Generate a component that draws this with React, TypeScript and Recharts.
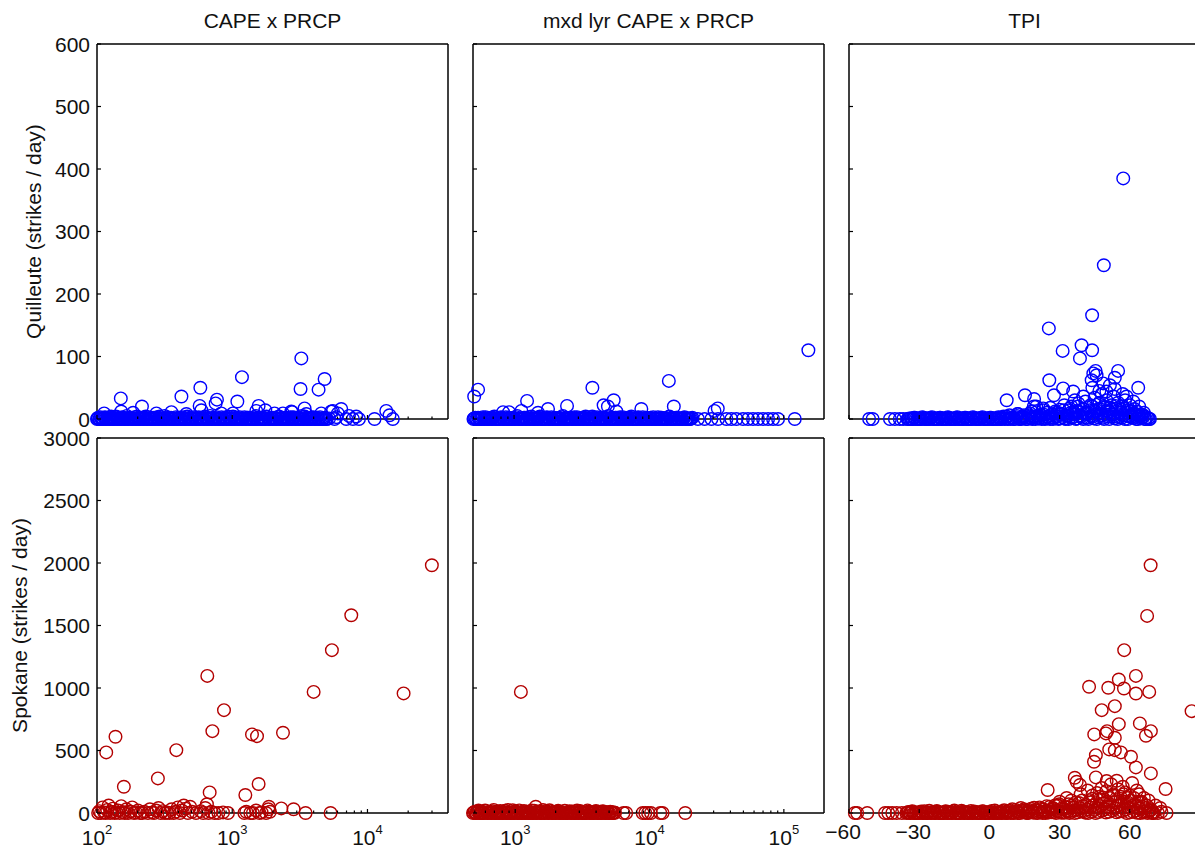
import React from 'react';
import { ScatterChart, Scatter, XAxis, YAxis } from 'recharts';

type Pt = [number, number];

// ---- Quilleute, CAPE x PRCP ----
const quilleuteCapePeaks: Pt[] = [
  [3243, 97], [3200, 48], [4350, 47], [4820, 64], [1180, 67], [581, 50], [421, 36], [150, 33],
  [215, 20], [771, 31], [754, 25], [1091, 28], [574, 21], [1567, 21], [1757, 14], [3428, 17],
  [6397, 16], [13770, 13], [14560, 6], [2735, 12], [2055, 9], [5395, 12], [113, 9], [151, 12],
  [185, 10], [275, 9], [355, 11], [458, 8], [591, 14], [830, 9], [1012, 9], [1506, 13], [2371, 9],
  [2780, 11], [3530, 8], [4553, 9], [5550, 13], [6040, 9], [8260, 4],
];
const quilleuteCapeBase: Pt[] = [
  [100, 0], [102, 2], [105, 0], [108, 1], [111, 0], [115, 3], [118, 0], [122, 1], [126, 0], [129, 2],
  [133, 0], [138, 4], [142, 0], [146, 1], [151, 0], [156, 2], [161, 0], [166, 5], [171, 0], [177, 1],
  [183, 0], [189, 3], [195, 0], [201, 1], [208, 0], [215, 2], [222, 0], [229, 4], [236, 0], [244, 1],
  [252, 0], [260, 2], [269, 0], [278, 3], [287, 0], [296, 1], [306, 0], [316, 5], [326, 0], [337, 2],
  [348, 0], [359, 1], [371, 0], [383, 3], [396, 0], [409, 2], [422, 0], [436, 1], [450, 0], [465, 4],
  [480, 0], [496, 2], [512, 0], [529, 1], [547, 0], [565, 3], [583, 0], [603, 2], [622, 0], [643, 1],
  [664, 0], [686, 5], [709, 0], [732, 2], [756, 0], [781, 1], [807, 0], [834, 3], [861, 0], [890, 2],
  [919, 0], [950, 1], [981, 0], [1013, 4], [1047, 0], [1082, 2], [1117, 0], [1154, 1], [1193, 0],
  [1232, 3], [1273, 0], [1315, 2], [1358, 0], [1403, 1], [1450, 0], [1498, 5], [1547, 0], [1598, 2],
  [1651, 0], [1706, 1], [1762, 0], [1821, 3], [1881, 0], [1943, 2], [2007, 0], [2074, 1], [2142, 0],
  [2213, 4], [2287, 0], [2362, 2], [2441, 0], [2521, 1], [2605, 0], [2691, 3], [2780, 0], [2872, 2],
  [2967, 0], [3066, 1], [3167, 0], [3272, 5], [3381, 0], [3493, 2], [3608, 0], [3728, 1], [3851, 0],
  [3979, 3], [4110, 0], [4247, 2], [4387, 0], [4532, 1], [4683, 0], [4838, 2], [4998, 0], [5200, 1],
  [5710, 0], [5900, 3], [6970, 0], [7300, 5], [7800, 0], [8650, 0], [11280, 0], [15400, 0],
];
const quilleuteCapeDense: Pt[] = [
  [101, 1], [104, 0], [106, 3], [110, 0], [113, 2], [116, 0], [120, 1], [124, 0], [127, 4], [131, 0],
  [135, 1], [140, 0], [144, 2], [149, 0], [153, 3], [158, 0], [163, 1], [168, 0], [174, 2], [180, 0],
  [186, 1], [192, 0], [198, 4], [204, 0], [211, 1], [218, 0], [225, 2], [232, 0], [240, 3], [248, 0],
  [256, 1], [264, 0], [273, 2], [282, 0], [291, 4], [301, 0], [311, 1], [321, 0], [331, 3], [342, 0],
  [353, 2], [365, 0], [377, 1], [389, 0], [402, 2], [415, 0], [429, 3], [443, 0], [457, 1], [472, 0],
  [488, 2], [504, 0], [520, 3], [538, 0], [556, 1], [574, 0], [593, 2], [612, 0], [632, 4], [653, 0],
  [675, 1], [697, 0], [720, 2], [744, 0], [768, 3], [794, 0], [820, 1], [847, 0], [875, 2], [904, 0],
  [934, 4], [965, 0], [997, 1], [1030, 0], [1064, 2], [1099, 0], [1135, 3], [1173, 0], [1212, 1],
  [1252, 0], [1294, 2], [1336, 0], [1380, 1], [1426, 0], [1474, 3], [1522, 0], [1572, 2], [1624, 0],
  [1678, 1], [1734, 0], [1791, 4], [1850, 0], [1912, 1], [1975, 0], [2040, 2], [2108, 0], [2177, 3],
  [2250, 0], [2324, 1], [2400, 0], [2480, 2], [2562, 0], [2647, 1], [2735, 0], [2825, 3], [2919, 0],
  [3015, 2], [3115, 0], [3219, 1], [3325, 0], [3436, 4], [3550, 0], [3667, 1], [3789, 0], [3914, 2],
  [4044, 0], [4178, 1], [4316, 0], [4459, 3], [4607, 0], [4760, 1], [4917, 0],
];

// ---- Quilleute, mixed-layer CAPE x PRCP ----
const quilleuteMxdPeaks: Pt[] = [
  [152400, 110], [14060, 61], [3811, 50], [541, 47], [506, 36], [1249, 29], [5483, 30], [4616, 22],
  [4966, 20], [2471, 21], [15310, 20], [32430, 17], [30680, 13], [8790, 16], [1786, 16], [918, 11],
  [829, 11], [1134, 13], [1506, 10], [5740, 12],
];
const quilleuteMxdBase: Pt[] = [
  [500, 0], [515, 2], [532, 0], [550, 1], [568, 0], [587, 3], [606, 0], [626, 1], [647, 0], [668, 2],
  [690, 0], [713, 4], [737, 0], [761, 1], [786, 0], [812, 2], [839, 0], [867, 3], [896, 0], [925, 1],
  [956, 0], [988, 2], [1020, 0], [1054, 5], [1089, 0], [1125, 1], [1162, 0], [1200, 2], [1240, 0],
  [1281, 3], [1323, 0], [1367, 1], [1412, 0], [1459, 2], [1507, 0], [1557, 4], [1608, 0], [1661, 1],
  [1716, 0], [1773, 2], [1832, 0], [1892, 3], [1955, 0], [2019, 1], [2086, 0], [2155, 2], [2226, 0],
  [2300, 5], [2376, 0], [2454, 1], [2535, 0], [2619, 2], [2705, 0], [2795, 3], [2887, 0], [2983, 1],
  [3081, 0], [3183, 2], [3288, 0], [3397, 4], [3509, 0], [3625, 1], [3745, 0], [3869, 2], [3996, 0],
  [4128, 3], [4265, 0], [4406, 1], [4551, 0], [4701, 2], [4857, 0], [5017, 5], [5183, 0], [5354, 1],
  [5531, 0], [5714, 2], [5903, 0], [6098, 3], [6299, 0], [6507, 1], [6722, 0], [6944, 2], [7174, 0],
  [7411, 4], [7656, 0], [7909, 1], [8170, 0], [8440, 2], [8719, 0], [9007, 3], [9305, 0], [9612, 1],
  [9930, 0], [10260, 2], [10600, 0], [10950, 1], [11310, 0], [11680, 3], [12070, 0], [12470, 2],
  [12880, 0], [13300, 1], [13740, 0], [14200, 4], [14670, 0], [15150, 1], [15650, 0], [16170, 2],
  [16700, 0], [17250, 1], [17820, 0], [18410, 3], [19020, 0], [19650, 1], [20300, 0], [21000, 2],
  [23100, 0], [25900, 0], [29100, 0], [32600, 0], [37600, 0], [40900, 0], [44600, 0], [49900, 0],
  [54300, 0], [59200, 0], [64500, 0], [70300, 0], [76600, 0], [83400, 0], [90800, 0], [120800, 0],
];
const quilleuteMxdDense: Pt[] = [
  [507, 1], [523, 0], [541, 2], [559, 0], [577, 1], [596, 0], [616, 3], [636, 0], [657, 1], [679, 0],
  [701, 2], [725, 0], [749, 1], [773, 0], [799, 3], [825, 0], [853, 1], [881, 0], [910, 2], [940, 0],
  [972, 1], [1004, 0], [1037, 3], [1071, 0], [1107, 1], [1143, 0], [1181, 2], [1220, 0], [1260, 1],
  [1302, 0], [1345, 4], [1390, 0], [1435, 1], [1483, 0], [1532, 2], [1582, 0], [1634, 1], [1688, 0],
  [1744, 3], [1802, 0], [1862, 1], [1923, 0], [1987, 2], [2052, 0], [2120, 1], [2190, 0], [2263, 3],
  [2338, 0], [2415, 1], [2495, 0], [2577, 2], [2662, 0], [2750, 1], [2841, 0], [2935, 3], [3032, 0],
  [3132, 1], [3235, 0], [3342, 2], [3453, 0], [3567, 1], [3685, 0], [3807, 4], [3932, 0], [4062, 1],
  [4196, 0], [4335, 2], [4478, 0], [4626, 1], [4779, 0], [4937, 3], [5100, 0], [5268, 1], [5442, 0],
  [5622, 2], [5808, 0], [6000, 1], [6198, 0], [6403, 3], [6614, 0], [6833, 1], [7059, 0], [7292, 2],
  [7533, 0], [7782, 1], [8039, 0], [8305, 3], [8579, 0], [8862, 1], [9155, 0], [9458, 2], [9771, 0],
  [10090, 1], [10430, 0], [10770, 3], [11130, 0], [11490, 1], [11870, 0], [12270, 2], [12670, 0],
  [13090, 1], [13520, 0], [13970, 3], [14430, 0], [14910, 1], [15400, 0], [15910, 2], [16430, 0],
  [16970, 1], [17530, 0], [18110, 2], [18710, 0], [19330, 1], [19970, 0], [20650, 1],
];

// ---- Quilleute, TPI ----
const quilleuteTpiPeaks: Pt[] = [
  [57.2, 385], [48.9, 246], [43.9, 166], [25.4, 145], [31.3, 109], [39.4, 118], [43.9, 110],
  [38.7, 97], [45.4, 77], [44.4, 73], [45.8, 70], [55.0, 77], [53.6, 66], [25.6, 62], [63.6, 50],
  [15.2, 38], [7.4, 30], [19.1, 32], [31.5, 49], [35.8, 44], [43.7, 62], [48.6, 57], [51.5, 54],
  [53.6, 48], [58.6, 36], [61.5, 28], [27.6, 38], [40.1, 36], [19.0, 20], [23.0, 17], [36.5, 30],
];
const quilleuteTpiCloud: Pt[] = [
  [12, 8], [18, 12], [22, 6], [26, 18], [29, 10], [32, 22], [34, 14], [36, 8], [38, 25], [40, 16],
  [41, 28], [42, 10], [44, 20], [45, 34], [46, 14], [47, 26], [48, 40], [49, 18], [50, 30], [51, 12],
  [52, 22], [53, 36], [54, 16], [55, 26], [56, 10], [57, 20], [58, 30], [59, 14], [60, 22], [61, 8],
  [62, 16], [63, 12], [64, 20], [65, 6], [66, 10], [30, 15], [35, 20], [47, 45], [50, 44], [44, 50],
  [37, 13], [52, 8], [57, 40], [20, 20], [23, 14],
];
const quilleuteTpiBase: Pt[] = [
  [-51.4, 0], [-49.9, 0], [-42.5, 0], [-40.4, 0], [-38.3, 0], [-36.8, 0],
  [-35, 0], [-34.2, 1], [-33.1, 0], [-32.3, 2], [-31.4, 0], [-30.3, 1], [-29.5, 0], [-28.7, 3],
  [-27.6, 0], [-26.8, 1], [-25.9, 0], [-25.1, 2], [-24.0, 0], [-23.2, 1], [-22.4, 0], [-21.3, 2],
  [-20.5, 0], [-19.6, 1], [-18.7, 0], [-17.8, 3], [-16.9, 0], [-16.1, 1], [-15.0, 0], [-14.2, 2],
  [-13.3, 0], [-12.5, 1], [-11.4, 0], [-10.6, 2], [-9.7, 0], [-8.8, 1], [-7.9, 0], [-7.1, 3],
  [-6.0, 0], [-5.2, 1], [-4.3, 0], [-3.5, 2], [-2.4, 0], [-1.6, 1], [-0.7, 0], [0.2, 2], [1.1, 0],
  [1.9, 1], [2.9, 0], [3.8, 3], [4.6, 0], [5.5, 2], [6.5, 0], [7.3, 4], [8.2, 1], [9.1, 0], [10.0, 3],
  [10.8, 0], [11.7, 5], [12.6, 1], [13.5, 0], [14.4, 4], [15.3, 2], [16.1, 0], [17.1, 6], [17.9, 1],
  [18.8, 3], [19.7, 0], [20.6, 5], [21.5, 2], [22.3, 0], [23.3, 7], [24.1, 1], [25.0, 4], [25.9, 0],
  [26.8, 8], [27.7, 2], [28.5, 5], [29.5, 0], [30.3, 9], [31.2, 3], [32.1, 1], [33.0, 6], [33.9, 0],
  [34.8, 10], [35.7, 3], [36.6, 7], [37.5, 1], [38.3, 12], [39.2, 4], [40.1, 0], [41.0, 9], [41.9, 2],
  [42.8, 14], [43.7, 5], [44.6, 1], [45.4, 11], [46.3, 3], [47.2, 16], [48.1, 6], [49.0, 0],
  [49.9, 13], [50.8, 4], [51.7, 18], [52.6, 7], [53.5, 1], [54.3, 12], [55.2, 3], [56.1, 15],
  [57.0, 6], [57.9, 0], [58.8, 10], [59.7, 4], [60.6, 13], [61.5, 2], [62.4, 8], [63.3, 0], [64.2, 6],
  [65.1, 2], [66.0, 4], [66.9, 0], [67.8, 1], [68.6, 0],
];
const quilleuteTpiDense: Pt[] = [
  [-34.6, 0], [-33.6, 1], [-32.7, 0], [-31.8, 2], [-30.8, 0], [-29.9, 1], [-29.1, 0], [-28.1, 2],
  [-27.2, 0], [-26.3, 1], [-25.5, 0], [-24.5, 3], [-23.6, 0], [-22.8, 1], [-21.8, 0], [-20.9, 2],
  [-20.1, 0], [-19.1, 1], [-18.2, 0], [-17.3, 2], [-16.5, 0], [-15.5, 1], [-14.6, 0], [-13.7, 3],
  [-12.9, 0], [-11.9, 1], [-11.0, 0], [-10.1, 2], [-9.2, 0], [-8.3, 1], [-7.5, 0], [-6.5, 2],
  [-5.6, 0], [-4.7, 1], [-3.9, 0], [-2.9, 3], [-2.0, 0], [-1.1, 1], [-0.2, 0], [0.7, 2], [1.5, 0],
  [2.4, 1], [3.3, 0], [4.2, 2], [5.1, 0], [6.0, 4], [6.9, 1], [7.8, 0], [8.6, 6], [9.5, 2], [10.4, 0],
  [11.3, 3], [12.2, 8], [13.0, 0], [13.9, 2], [14.8, 6], [15.7, 0], [16.6, 3], [17.5, 9], [18.4, 0],
  [19.2, 4], [20.1, 11], [21.0, 1], [21.9, 7], [22.8, 3], [23.7, 0], [24.6, 10], [25.5, 2], [26.3, 6],
  [27.2, 0], [28.1, 12], [29.0, 4], [29.9, 1], [30.8, 8], [31.7, 14], [32.6, 0], [33.4, 5], [34.3, 17],
  [35.2, 2], [36.1, 11], [37.0, 0], [37.9, 20], [38.8, 6], [39.7, 2], [40.5, 15], [41.4, 8], [42.3, 0],
  [43.2, 22], [44.1, 4], [45.0, 13], [45.9, 0], [46.8, 24], [47.6, 9], [48.5, 2], [49.4, 19], [50.3, 7],
  [51.2, 0], [52.1, 15], [53.0, 4], [53.9, 21], [54.8, 0], [55.7, 10], [56.6, 2], [57.5, 17], [58.4, 5],
  [59.2, 0], [60.1, 12], [61.0, 4], [61.9, 9], [62.8, 0], [63.7, 5], [64.6, 1], [65.5, 7], [66.4, 0],
  [67.3, 3], [68.2, 0],
];

// ---- Spokane, CAPE x PRCP ----
const spokaneCapePeaks: Pt[] = [
  [29930, 1982], [7590, 1582], [5457, 1303], [3999, 969], [18500, 957], [654, 1097], [869, 823],
  [713, 655], [1400, 629], [1525, 615], [2373, 642], [137, 610], [117, 485], [386, 503], [158, 210],
  [282, 277], [681, 165], [1567, 232], [1250, 144], [1866, 50], [2306, 37], [2843, 30], [3487, 0],
  [5335, 0],
];
const spokaneCapeBase: Pt[] = [
  [102, 0], [104, 15], [107, 0], [110, 45], [113, 5], [116, 0], [119, 25], [122, 60], [125, 0],
  [128, 10], [131, 35], [135, 0], [139, 5], [143, 20], [147, 0], [151, 55], [155, 8], [160, 0],
  [165, 30], [170, 0], [176, 12], [182, 45], [188, 0], [194, 5], [201, 20], [208, 0], [216, 0],
  [224, 10], [238, 0], [246, 30], [255, 5], [264, 0], [274, 20], [285, 40], [296, 0], [306, 15],
  [318, 0], [330, 5], [343, 0], [356, 30], [369, 0], [382, 10], [396, 45], [410, 0], [424, 20],
  [438, 60], [453, 35], [470, 0], [488, 50], [505, 10], [540, 0], [585, 15], [610, 0], [632, 40],
  [650, 70], [668, 0], [700, 10], [740, 0], [790, 0], [855, 5], [930, 0], [1230, 0], [1270, 10],
  [1360, 0], [1420, 0], [1500, 20], [1590, 0], [1650, 5], [1780, 0], [1850, 30], [1900, 10],
];

// ---- Spokane, mixed-layer CAPE x PRCP ----
const spokaneMxdPeaks: Pt[] = [[1102, 969], [1422, 50]];
const spokaneMxdBase: Pt[] = [
  [485, 0], [500, 10], [516, 0], [533, 20], [551, 0], [569, 5], [588, 0], [607, 15], [627, 0],
  [648, 8], [669, 0], [691, 25], [714, 0], [738, 12], [762, 0], [787, 4], [813, 0], [840, 18],
  [868, 0], [896, 6], [926, 0], [957, 22], [988, 0], [1021, 10], [1054, 0], [1089, 3], [1125, 0],
  [1162, 16], [1201, 0], [1240, 7], [1281, 0], [1324, 20], [1367, 0], [1412, 5], [1459, 0],
  [1507, 12], [1557, 0], [1609, 24], [1662, 0], [1717, 8], [1773, 0], [1832, 14], [1892, 0],
  [1955, 4], [2020, 0], [2086, 18], [2155, 0], [2227, 9], [2300, 0], [2376, 2], [2454, 0], [2536, 15],
  [2619, 0], [2706, 6], [2795, 0], [2888, 20], [2983, 0], [3082, 10], [3184, 0], [3289, 3], [3398, 0],
  [3510, 12], [3626, 0], [3746, 5], [3870, 0], [3998, 16], [4130, 0], [4267, 7], [4408, 0],
  [4554, 10], [4704, 0], [4860, 4], [5021, 0], [5187, 8], [5358, 0], [5535, 2],
  [6400, 0], [6700, 0], [8890, 0], [9300, 0], [9750, 0], [10250, 0], [12030, 0], [12500, 0], [18450, 0],
];
const spokaneMxdDense: Pt[] = [
  [492, 5], [508, 0], [524, 12], [542, 0], [560, 3], [578, 0], [597, 20], [617, 0], [637, 6], [658, 0],
  [680, 14], [702, 0], [726, 2], [750, 0], [774, 17], [800, 0], [826, 9], [854, 0], [882, 24], [911, 0],
  [941, 4], [972, 0], [1004, 13], [1037, 0], [1071, 21], [1107, 0], [1143, 7], [1181, 0], [1220, 11],
  [1260, 0], [1302, 2], [1345, 0], [1389, 18], [1435, 0], [1483, 9], [1532, 0], [1583, 4], [1635, 0],
  [1689, 15], [1745, 0], [1802, 22], [1862, 0], [1923, 6], [1987, 0], [2053, 10], [2120, 0], [2191, 3],
  [2263, 0], [2338, 19], [2415, 0], [2495, 8], [2577, 0], [2662, 12], [2750, 0], [2841, 4], [2935, 0],
  [3032, 16], [3132, 0], [3236, 7], [3343, 0], [3453, 21], [3567, 0], [3685, 5], [3807, 0], [3933, 11],
  [4063, 0], [4197, 3], [4336, 0], [4479, 14], [4627, 0], [4780, 6], [4939, 0], [5102, 10], [5270, 0],
  [5445, 4],
];

// ---- Spokane, TPI ----
const spokaneTpiPeaks: Pt[] = [
  [68.9, 1982], [67.4, 1577], [57.6, 1303], [42.6, 1010], [50.8, 1002], [55.3, 1068], [62.6, 1097],
  [57.5, 996], [62.6, 956], [68.3, 969], [48.0, 823], [53.6, 855], [55.3, 711], [44.8, 629],
  [50.3, 655], [49.8, 637], [53.6, 602], [64.3, 717], [66.9, 618], [69.0, 655], [51.2, 509],
  [53.6, 503], [56.2, 485], [60.5, 450], [62.6, 365], [45.5, 463], [44.7, 410], [69.0, 317],
  [36.5, 282], [37.3, 250], [38.7, 224], [24.9, 184], [75.3, 192], [45.5, 285], [50.1, 256],
  [54.4, 258], [86.4, 815],
];
const spokaneTpiCloud: Pt[] = [
  [46, 160], [50, 175], [53, 150], [55, 190], [58, 165], [60, 140], [63, 180], [66, 120], [44, 140],
  [48, 200], [52, 230], [57, 210], [61, 240], [64, 150], [68, 100], [71, 60], [73, 40], [30, 90],
  [33, 120], [39, 150], [42, 180], [28, 60], [35, 100], [47, 130], [59, 120], [65, 90],
];
const spokaneTpiBase: Pt[] = [
  [-57.5, 0], [-56.5, 0], [-52.2, 0], [-44.6, 0], [-43.2, 0], [-41.5, 0], [-39.6, 0], [-37.4, 0],
  [-35.5, 0], [-34.6, 8], [-33.7, 0], [-32.9, 15], [-31.8, 0], [-31.0, 5], [-30.1, 0], [-29.2, 12],
  [-28.3, 0], [-27.4, 3], [-26.5, 0], [-25.7, 18], [-24.8, 0], [-23.9, 6], [-23.0, 0], [-22.1, 10],
  [-21.2, 0], [-20.3, 4], [-19.4, 0], [-18.6, 14], [-17.7, 0], [-16.8, 7], [-15.9, 0], [-15.0, 20],
  [-14.1, 0], [-13.2, 2], [-12.3, 0], [-11.5, 11], [-10.6, 0], [-9.7, 5], [-8.8, 0], [-7.9, 16],
  [-7.0, 0], [-6.1, 9], [-5.2, 0], [-4.4, 3], [-3.5, 0], [-2.6, 13], [-1.7, 0], [-0.8, 6], [0.1, 0],
  [1.0, 17], [1.9, 0], [2.7, 4], [3.6, 0], [4.5, 10], [5.4, 0], [6.3, 22], [7.2, 0], [8.1, 8],
  [9.0, 0], [9.8, 30], [10.7, 2], [11.6, 14], [12.5, 0], [13.4, 40], [14.3, 5], [15.2, 20], [16.1, 0],
  [16.9, 12], [17.8, 35], [18.7, 3], [19.6, 24], [20.5, 0], [21.4, 45], [22.3, 9], [23.2, 28],
  [24.0, 0], [24.9, 16], [25.8, 50], [26.7, 6], [27.6, 32], [28.5, 0], [29.4, 60], [30.3, 12],
  [31.1, 38], [32.0, 2], [32.9, 20], [33.8, 70], [34.7, 8], [35.6, 44], [36.5, 0], [37.4, 26],
  [38.3, 80], [39.2, 14], [40.1, 55], [40.9, 3], [41.8, 30], [42.7, 95], [43.6, 10], [44.5, 62],
  [45.4, 0], [46.3, 40], [47.2, 110], [48.0, 18], [48.9, 75], [49.8, 4], [50.7, 50], [51.6, 120],
  [52.5, 22], [53.4, 85], [54.3, 6], [55.1, 60], [56.0, 130], [56.9, 15], [57.8, 90], [58.7, 0],
  [59.6, 45], [60.5, 100], [61.4, 10], [62.2, 70], [63.1, 2], [64.0, 35], [64.9, 80], [65.8, 5],
  [66.7, 40], [67.6, 0], [68.5, 20], [69.4, 3], [70.2, 0], [72.0, 0], [73.5, 10], [75.7, 0],
];
const spokaneTpiDense: Pt[] = [
  [-35.0, 4], [-34.1, 0], [-33.3, 10], [-32.3, 0], [-31.4, 2], [-30.5, 0], [-29.6, 7], [-28.7, 0],
  [-27.8, 14], [-26.9, 0], [-26.1, 5], [-25.2, 0], [-24.3, 9], [-23.4, 0], [-22.5, 16], [-21.6, 0],
  [-20.7, 3], [-19.8, 0], [-18.9, 11], [-18.1, 0], [-17.2, 6], [-16.3, 0], [-15.4, 13], [-14.5, 0],
  [-13.6, 4], [-12.7, 0], [-11.9, 18], [-11.0, 0], [-10.1, 8], [-9.2, 0], [-8.3, 2], [-7.4, 0],
  [-6.5, 12], [-5.7, 0], [-4.8, 6], [-3.9, 0], [-3.0, 15], [-2.1, 0], [-1.2, 4], [-0.3, 0], [0.5, 9],
  [1.4, 0], [2.3, 20], [3.2, 0], [4.1, 6], [5.0, 0], [5.9, 14], [6.7, 3], [7.6, 0], [8.5, 18], [9.4, 5],
  [10.3, 0], [11.2, 25], [12.0, 8], [12.9, 0], [13.8, 16], [14.7, 30], [15.6, 4], [16.5, 0], [17.4, 22],
  [18.3, 10], [19.1, 42], [20.0, 2], [20.9, 18], [21.8, 32], [22.7, 0], [23.6, 12], [24.5, 55],
  [25.3, 4], [26.2, 25], [27.1, 40], [28.0, 8], [28.9, 18], [29.8, 70], [30.7, 2], [31.6, 30],
  [32.5, 48], [33.4, 12], [34.2, 0], [35.1, 60], [36.0, 20], [36.9, 85], [37.8, 6], [38.7, 38],
  [39.6, 100], [40.5, 15], [41.4, 65], [42.2, 0], [43.1, 45], [44.0, 115], [44.9, 25], [45.8, 80],
  [46.7, 8], [47.6, 55], [48.5, 125], [49.4, 30], [50.3, 90], [51.1, 10], [52.0, 65], [52.9, 140],
  [53.8, 35], [54.7, 105], [55.6, 12], [56.5, 70], [57.4, 150], [58.3, 28], [59.1, 85], [60.0, 5],
  [60.9, 58], [61.8, 120], [62.7, 20], [63.6, 90], [64.5, 0], [65.4, 50], [66.3, 14], [67.2, 60],
  [68.1, 8], [69.0, 30], [69.8, 0],
];

const titles = ['CAPE x PRCP', 'mxd lyr CAPE x PRCP', 'TPI'];
const rowLabels = ['Quilleute (strikes / day)', 'Spokane (strikes / day)'];
const quilleuteTicks = [0, 100, 200, 300, 400, 500, 600];
const spokaneTicks = [0, 500, 1000, 1500, 2000, 2500, 3000];
const capeTicks = [100, 200, 300, 400, 500, 600, 700, 800, 900, 1000, 2000, 3000, 4000, 5000, 6000,
  7000, 8000, 9000, 10000, 20000, 30000];
const mxdTicks = [500, 600, 700, 800, 900, 1000, 2000, 3000, 4000, 5000, 6000, 7000, 8000, 9000,
  10000, 20000, 30000, 40000, 50000, 60000, 70000, 80000, 90000, 100000];
const tpiTicks = [-60, -30, 0, 30, 60];

const BLUE = '#0000ff';
const RED = '#b30000';
const FONT = '"Liberation Sans", Arial, Helvetica, sans-serif';
const PW = 351;
const PH = 375;
const COLS = [97, 473, 849];
const ROWS = [44, 438];
const ML = 100, MR = 40, MT = 40, MB = 50;
const AX = 20; // room reserved by each axis, taken out of the margins

const toRows = (...sets: Pt[][]) => sets.flat().map(([x, y]) => ({ x, y }));

const isMajor = (v: number) => Math.abs(Math.log10(v) - Math.round(Math.log10(v))) < 1e-9;

type PanelProps = {
  col: number;
  row: number;
  data: { x: number; y: number }[];
  color: string;
  log: boolean;
  xDomain: [number, number];
  xTicks: number[];
  yDomain: [number, number];
  yTicks: number[];
};

function Panel({ col, row, data, color, log, xDomain, xTicks, yDomain, yTicks }: PanelProps) {
  const showX = row === 1;
  const showY = col === 0;
  const axisLine = { stroke: '#000', strokeWidth: 1.5 };
  const tickLen = (v: number) => (log && !isMajor(v) ? 2.5 : 4);

  const bottomTick = (p: any) => {
    const v = p.payload.value;
    let label = null;
    if (showX && log && isMajor(v)) {
      label = (
        <text x={p.x} y={p.y + 32} textAnchor="middle" fontFamily={FONT} fontSize={21} fill="#111">
          10<tspan dy={-11} fontSize={13}>{Math.round(Math.log10(v))}</tspan>
        </text>
      );
    } else if (showX && !log) {
      label = (
        <text x={p.x} y={p.y + 26} dx={v < 0 ? -6 : 0} textAnchor="middle" fontFamily={FONT} fontSize={21} fill="#111">
          {v < 0 ? `\u2212${Math.abs(v)}` : `${v}`}
        </text>
      );
    }
    return (
      <g>
        <line x1={p.x} x2={p.x} y1={p.y} y2={p.y - tickLen(v)} stroke="#000" strokeWidth={1.2} />
        {label}
      </g>
    );
  };
  const topTick = (p: any) => (
    <line x1={p.x} x2={p.x} y1={p.y} y2={p.y + tickLen(p.payload.value)} stroke="#000" strokeWidth={1.2} />
  );
  const leftTick = (p: any) => (
    <g>
      <line x1={p.x} x2={p.x + 4} y1={p.y} y2={p.y} stroke="#000" strokeWidth={1.2} />
      {showY && (
        <text x={p.x - 7} y={p.y + 7.5} textAnchor="end" fontFamily={FONT} fontSize={21} fill="#111">
          {p.payload.value}
        </text>
      )}
    </g>
  );
  const rightTick = (p: any) => (
    <line x1={p.x} x2={p.x - 4} y1={p.y} y2={p.y} stroke="#000" strokeWidth={1.2} />
  );

  const xCommon = {
    type: 'number' as const,
    scale: log ? ('log' as const) : ('linear' as const),
    domain: xDomain,
    ticks: xTicks,
    interval: 0 as const,
    height: AX,
    tickSize: 0,
    tickMargin: 0,
    axisLine,
    tickLine: false,
  };
  const yCommon = {
    type: 'number' as const,
    domain: yDomain,
    ticks: yTicks,
    interval: 0 as const,
    width: AX,
    tickSize: 0,
    tickMargin: 0,
    axisLine,
    tickLine: false,
  };

  return (
    <div style={{ position: 'absolute', left: COLS[col] - ML, top: ROWS[row] - MT }}>
      <ScatterChart
        width={PW + ML + MR}
        height={PH + MT + MB}
        margin={{ top: MT - AX, right: MR - AX, bottom: MB - AX, left: ML - AX }}
      >
        <XAxis xAxisId="b" dataKey="x" orientation="bottom" {...xCommon} tick={bottomTick} />
        <XAxis xAxisId="t" orientation="top" {...xCommon} tick={topTick} />
        <YAxis yAxisId="l" dataKey="y" orientation="left" {...yCommon} tick={leftTick} />
        <YAxis yAxisId="r" orientation="right" {...yCommon} tick={rightTick} />
        <Scatter
          xAxisId="b"
          yAxisId="l"
          data={data}
          isAnimationActive={false}
          shape={(p: any) => (
            <circle cx={p.cx} cy={p.cy} r={6.3} fill="none" stroke={color} strokeWidth={1.4} />
          )}
        />
      </ScatterChart>
    </div>
  );
}

export default function App() {
  const capeDomain: [number, number] = [100, 39400];
  const mxdDomain: [number, number] = [496, 199000];
  const tpiDomain: [number, number] = [-60, 90];
  return (
    <div
      style={{
        position: 'fixed', left: 0, top: 0, width: 1195, height: 850,
        overflow: 'hidden', background: '#fff',
      }}
    >
      <svg width={1195} height={850} style={{ position: 'absolute', left: 0, top: 0 }}>
        {titles.map((t, i) => (
          <text key={t} x={COLS[i] + PW / 2} y={28} textAnchor="middle" fontFamily={FONT} fontSize={21} fill="#111">
            {t}
          </text>
        ))}
        <text transform={`translate(40.5,${ROWS[0] + PH / 2}) rotate(-90)`} textAnchor="middle"
          fontFamily={FONT} fontSize={21} fill="#111">{rowLabels[0]}</text>
        <text transform={`translate(27,${ROWS[1] + PH / 2}) rotate(-90)`} textAnchor="middle"
          fontFamily={FONT} fontSize={21} fill="#111">{rowLabels[1]}</text>
      </svg>
      <Panel col={0} row={0} color={BLUE} log
        data={toRows(quilleuteCapeBase, quilleuteCapeDense, quilleuteCapePeaks)}
        xDomain={capeDomain} xTicks={capeTicks} yDomain={[0, 600]} yTicks={quilleuteTicks} />
      <Panel col={1} row={0} color={BLUE} log
        data={toRows(quilleuteMxdBase, quilleuteMxdDense, quilleuteMxdPeaks)}
        xDomain={mxdDomain} xTicks={mxdTicks} yDomain={[0, 600]} yTicks={quilleuteTicks} />
      <Panel col={2} row={0} color={BLUE} log={false}
        data={toRows(quilleuteTpiBase, quilleuteTpiDense, quilleuteTpiCloud, quilleuteTpiPeaks)}
        xDomain={tpiDomain} xTicks={tpiTicks} yDomain={[0, 600]} yTicks={quilleuteTicks} />
      <Panel col={0} row={1} color={RED} log data={toRows(spokaneCapeBase, spokaneCapePeaks)}
        xDomain={capeDomain} xTicks={capeTicks} yDomain={[0, 3000]} yTicks={spokaneTicks} />
      <Panel col={1} row={1} color={RED} log
        data={toRows(spokaneMxdBase, spokaneMxdDense, spokaneMxdPeaks)}
        xDomain={mxdDomain} xTicks={mxdTicks} yDomain={[0, 3000]} yTicks={spokaneTicks} />
      <Panel col={2} row={1} color={RED} log={false}
        data={toRows(spokaneTpiBase, spokaneTpiDense, spokaneTpiCloud, spokaneTpiPeaks)}
        xDomain={tpiDomain} xTicks={tpiTicks} yDomain={[0, 3000]} yTicks={spokaneTicks} />
    </div>
  );
}
